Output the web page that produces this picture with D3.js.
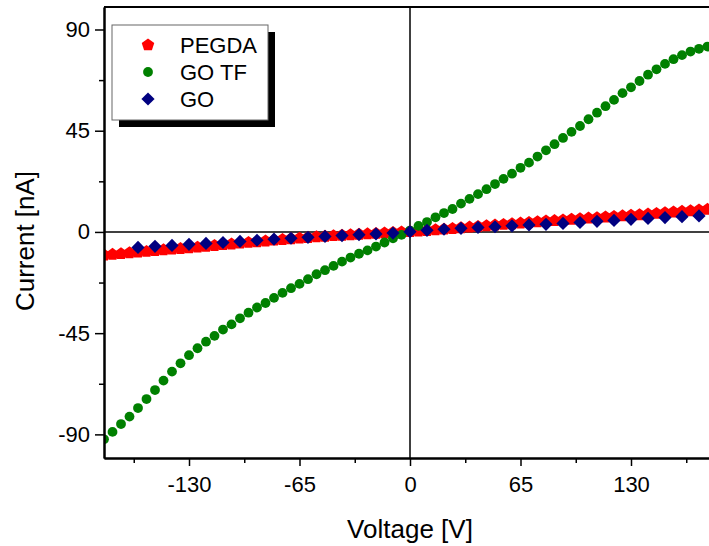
<!DOCTYPE html>
<html>
<head>
<meta charset="utf-8">
<script src="https://cdn.jsdelivr.net/npm/d3@7"></script>
<style>
	body { margin: 0; background: #fff; }
	text { font-family: "Liberation Sans", Arial, sans-serif; }
</style>
</head>
<body>
<div id="chart"></div>
<script>
// voltage sweep (V)
var voltsFine = d3.range(-180, 185, 5);
var voltsGO = d3.range(-160, 180, 10);

// current (nA)
var pegda = [-10.3, -10.0, -9.7, -9.3, -9.0, -8.7, -8.3, -8.0, -7.7, -7.4, -7.1, -6.8, -6.4, -6.1, -5.7, -5.4, -5.0, -4.7, -4.4, -4.1,
	-3.7, -3.4, -3.1, -2.8, -2.5, -2.2, -2.0, -1.7, -1.5, -1.3, -1.1, -0.9, -0.7, -0.5, -0.3, -0.1,
	0.1, 0.3, 0.6, 0.9, 1.2, 1.5, 1.8, 2.1, 2.4, 2.7, 3.0, 3.3, 3.6, 3.9, 4.2, 4.5, 4.8, 5.0, 5.3, 5.6, 5.8,
	6.1, 6.3, 6.6, 6.8, 7.1, 7.4, 7.6, 7.9, 8.2, 8.5, 8.8, 9.1, 9.4, 9.7, 10.0, 10.3];
var goTF = [-92.2, -88.9, -85.4, -82.1, -78.3, -74.3, -70.3, -66.1, -62.1, -58.4, -54.8, -51.7, -48.8, -46.2, -43.4, -41.1,
	-38.4, -35.9, -33.6, -31.6, -29.3, -27.1, -25.0, -23.1, -21.0, -18.8, -17.0, -15.1, -13.2, -11.4, -9.7, -8.2, -6.5, -4.7, -2.8, -1.3,
	0.6, 2.7, 4.4, 6.5, 8.4, 10.2, 12.6, 14.7, 16.8, 19.0, 21.3, 23.6, 25.9, 28.5, 30.8, 33.5, 36.3, 39.0, 41.8, 44.5, 47.1,
	50.1, 53.0, 55.9, 58.7, 61.7, 64.3, 67.1, 69.9, 72.3, 74.7, 76.8, 78.6, 80.2, 81.4, 82.4, 83.2];
var go = [-6.9, -6.4, -6.0, -5.5, -5.1, -4.7, -4.2, -3.7, -3.2, -2.8, -2.4, -2.0, -1.6, -1.2, -0.9, -0.5,
	0.1, 0.7, 1.2, 1.6, 2.0, 2.3, 2.7, 3.1, 3.4, 3.8, 4.2, 4.7, 5.1, 5.6, 6.0, 6.4, 6.8, 7.1];

var xTicks = [-130, -65, 0, 65, 130];
var xMinor = [-162.5, -97.5, -32.5, 32.5, 97.5, 162.5];
var yTicks = [-90, -45, 0, 45, 90];
var yMinor = [-67.5, -22.5, 22.5, 67.5];
var seriesNames = ["PEGDA", "GO TF", "GO"];
var seriesColors = ["#ff0000", "#008000", "#000080"];

var W = 709, H = 546;
var pLeft = 104, pRight = 716, pTop = 7, pBottom = 458;

var svg = d3.select("#chart").append("svg")
	.attr("width", W)
	.attr("height", H);

var xScale = d3.scaleLinear()
	.domain([-180, 180])
	.range([pLeft, pRight]);
var yScale = d3.scaleLinear()
	.domain([-100.5, 100])
	.range([pBottom, pTop]);

svg.append("clipPath").attr("id", "plotClip")
	.append("rect")
	.attr("x", pLeft).attr("y", pTop)
	.attr("width", pRight - pLeft).attr("height", pBottom - pTop);

// marker shapes
function pentagon(r) {
	var pts = d3.range(5).map(function (i) {
		var a = -Math.PI / 2 + i * 2 * Math.PI / 5;
		return [r * Math.cos(a), r * Math.sin(a)];
	});
	return "M" + pts.join("L") + "Z";
}
function diamond(r) {
	return "M0," + (-r) + "L" + r + ",0L0," + r + "L" + (-r) + ",0Z";
}
var markers = [
	function (g) { return g.append("path").attr("d", pentagon(6.6)); },
	function (g) { return g.append("circle").attr("r", 4.9); },
	function (g) { return g.append("path").attr("d", diamond(6.6)); }
];

var series = [
	voltsFine.map(function (v, i) { return {v: v, c: pegda[i]}; }),
	voltsFine.map(function (v, i) { return {v: v, c: goTF[i]}; }),
	voltsGO.map(function (v, i) { return {v: v, c: go[i]}; })
];

var plot = svg.append("g").attr("clip-path", "url(#plotClip)");

// zero lines
plot.append("line")
	.attr("x1", xScale(0)).attr("x2", xScale(0))
	.attr("y1", pTop).attr("y2", pBottom)
	.attr("stroke", "#000").attr("stroke-width", 1.5);
plot.append("line")
	.attr("x1", pLeft).attr("x2", pRight)
	.attr("y1", yScale(0)).attr("y2", yScale(0))
	.attr("stroke", "#000").attr("stroke-width", 1.5);

series.forEach(function (data, k) {
	plot.append("g").selectAll("g")
		.data(data)
		.enter()
		.append("g")
		.attr("transform", function (d) { return "translate(" + xScale(d.v) + "," + yScale(d.c) + ")"; })
		.each(function () {
			markers[k](d3.select(this)).attr("fill", seriesColors[k]);
		});
});

// axes (plain hyphen for negatives, like the original)
var fmt = function (d) { return String(d); };
var xAxis = svg.append("g")
	.attr("transform", "translate(0," + pBottom + ")")
	.call(d3.axisBottom(xScale).tickValues(xTicks).tickFormat(fmt).tickSize(8).tickPadding(10).tickSizeOuter(0));
var xAxisMinor = svg.append("g")
	.attr("transform", "translate(0," + pBottom + ")")
	.call(d3.axisBottom(xScale).tickValues(xMinor).tickSize(5).tickFormat("").tickSizeOuter(0));
var yAxis = svg.append("g")
	.attr("transform", "translate(" + pLeft + ",0)")
	.call(d3.axisLeft(yScale).tickValues(yTicks).tickFormat(fmt).tickSize(9).tickPadding(5).tickSizeOuter(0));
var yAxisMinor = svg.append("g")
	.attr("transform", "translate(" + pLeft + ",0)")
	.call(d3.axisLeft(yScale).tickValues(yMinor).tickSize(5).tickFormat("").tickSizeOuter(0));

[xAxis, xAxisMinor, yAxis, yAxisMinor].forEach(function (a) {
	a.selectAll("path").attr("stroke", "#000").attr("stroke-width", 2);
	a.selectAll("line").attr("stroke", "#000").attr("stroke-width", 1.5);
	a.selectAll("text").attr("fill", "#000").style("font-size", "22px")
		.style("font-family", "'Liberation Sans', Arial, sans-serif");
});

// top frame
svg.append("line")
	.attr("x1", pLeft).attr("x2", pRight)
	.attr("y1", pTop).attr("y2", pTop)
	.attr("stroke", "#000").attr("stroke-width", 2);

// axis titles
svg.append("text")
	.attr("x", xScale(0))
	.attr("y", 538)
	.attr("text-anchor", "middle")
	.style("font-size", "26px")
	.text("Voltage [V]");
svg.append("text")
	.attr("transform", "translate(34,241) rotate(-90)")
	.attr("text-anchor", "middle")
	.style("font-size", "26px")
	.text("Current [nA]");

// legend
var legend = svg.append("g");
legend.append("rect")
	.attr("x", 119).attr("y", 32)
	.attr("width", 156).attr("height", 95)
	.attr("fill", "#000");
legend.append("rect")
	.attr("x", 112).attr("y", 25)
	.attr("width", 156).attr("height", 95)
	.attr("fill", "#fff")
	.attr("stroke", "#666").attr("stroke-width", 1);
seriesNames.forEach(function (name, k) {
	var yy = 45 + k * 27;
	var g = legend.append("g").attr("transform", "translate(148," + yy + ")");
	markers[k](g).attr("fill", seriesColors[k]);
	legend.append("text")
		.attr("x", 180)
		.attr("y", yy + 8)
		.style("font-size", "22px")
		.text(name);
});
</script>
</body>
</html>
